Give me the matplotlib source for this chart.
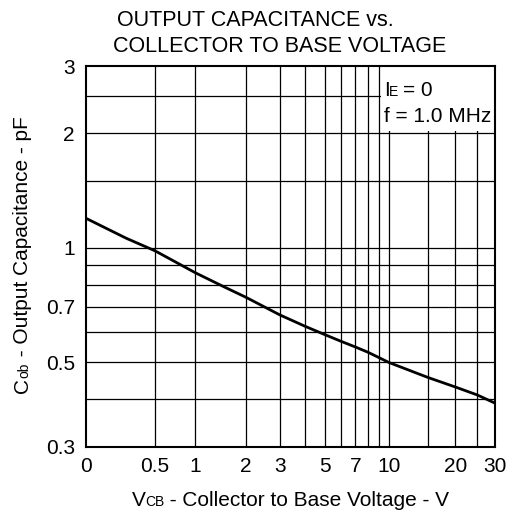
import matplotlib.pyplot as plt
import numpy as np
from matplotlib.patches import Rectangle

plt.rcParams['font.family'] = ['Liberation Sans', 'DejaVu Sans']

# data
vcb = [0, 0.25, 0.5, 1, 1.5, 2, 3, 4, 5, 6, 7, 8, 9, 10, 15, 20, 25, 30]
cob = [1.195, 1.059, 0.982, 0.86, 0.79, 0.741, 0.667, 0.623, 0.592, 0.568, 0.549,
       0.532, 0.515, 0.5, 0.457, 0.431, 0.411, 0.391]

x_ticks = [0, 0.5, 1, 2, 3, 5, 7, 10, 20, 30]
x_grid = [0.5, 1, 2, 3, 4, 5, 6, 7, 8, 9, 10, 15, 20, 25]
y_ticks = [0.3, 0.5, 0.7, 1, 2, 3]
y_grid = [0.4, 0.5, 0.6, 0.7, 0.8, 0.9, 1, 1.5, 2, 2.5]


def fwd(v):
    return np.log10(np.maximum(v, -0.49) + 0.5)


def inv(u):
    return 10 ** u - 0.5


W, H = 514, 513
fig = plt.figure(figsize=(W / 100, H / 100), dpi=100)
ax = fig.add_axes([86 / W, 1 - 447 / H, 409 / W, 381 / H])

ax.set_xscale('function', functions=(fwd, inv))
ax.set_yscale('log')
ax.set_xlim(0, 30)
ax.set_ylim(0.3, 3)

for v in x_grid:
    ax.axvline(v, color='black', lw=0.9, zorder=1)
for c in y_grid:
    ax.axhline(c, color='black', lw=0.9, zorder=1)

# condition box in the upper right (covers the grid)
ax.add_patch(Rectangle((9.15, 2.02), 30, 2, facecolor='white', edgecolor='none', zorder=1.5))
ax.text(0.7286, 0.9213, 'I', fontsize=15, ha='left', va='baseline', transform=ax.transAxes, zorder=3)
ax.text(0.7408, 0.9213, 'E', fontsize=10, ha='left', va='baseline', transform=ax.transAxes, zorder=3)
ax.text(0.7750, 0.9213, '= 0', fontsize=15, ha='left', va='baseline', transform=ax.transAxes, zorder=3)
ax.text(0.7286, 0.8538, 'f = 1.0 MHz', fontsize=15, ha='left', va='baseline',
        transform=ax.transAxes, zorder=3)

ax.plot(vcb, cob, color='black', lw=2, zorder=2)

ax.set_xticks(x_ticks)
ax.set_xticklabels([str(v) for v in x_ticks])
ax.set_xticks([], minor=True)
ax.set_yticks(y_ticks)
ax.set_yticklabels([str(v) for v in y_ticks])
ax.set_yticks([], minor=True)
ax.tick_params(length=0, labelsize=15)
ax.tick_params(axis='x', pad=7)
ax.tick_params(axis='y', pad=8)

for s in ax.spines.values():
    s.set_linewidth(1.5)
    s.set_zorder(4)

# x label: V with small CB on the same baseline
fig.text(131.7 / W, 1 - 506 / H, 'V', fontsize=15, ha='left', va='baseline')
fig.text(145.5 / W, 1 - 506 / H, 'CB', fontsize=10, ha='left', va='baseline')
fig.text(164.5 / W, 1 - 506 / H, ' - Collector to Base Voltage - V', fontsize=15, ha='left', va='baseline')

# y label: C with small ob, rotated
fig.text(28 / W, 1 - 393 / H, 'C', fontsize=15, rotation=90, rotation_mode='anchor',
         ha='left', va='baseline')
fig.text(28 / W, 1 - 377.5 / H, 'ob', fontsize=10, rotation=90, rotation_mode='anchor',
         ha='left', va='baseline')
fig.text(28 / W, 1 - 362 / H, ' - Output Capacitance - pF', fontsize=15, rotation=90,
         rotation_mode='anchor', ha='left', va='baseline')

fig.text(255 / W, 1 - 26 / H, 'OUTPUT CAPACITANCE vs.', fontsize=15.5, ha='center', va='baseline')
fig.text(280 / W, 1 - 52 / H, 'COLLECTOR TO BASE VOLTAGE', fontsize=15.5, ha='center', va='baseline')

fig.savefig('out.png', dpi=100)
